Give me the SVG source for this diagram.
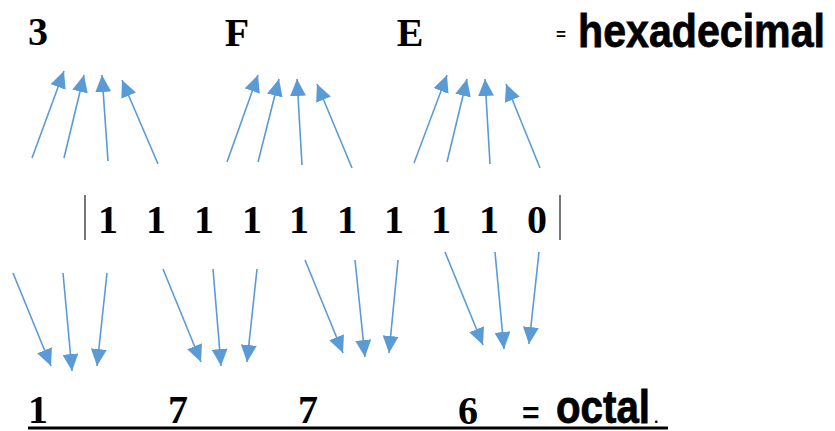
<svg xmlns="http://www.w3.org/2000/svg" width="835" height="431" viewBox="0 0 835 431">
<style>
.d{font-family:"Liberation Serif","Times New Roman",serif;font-weight:bold;font-size:40px;fill:#000;text-anchor:middle}
.w{font-family:"Liberation Sans",Arial,sans-serif;font-weight:bold;fill:#000}
.t{stroke:#000;stroke-width:0.8}
.c line{stroke:#5B9BD5;stroke-width:1.6;marker-end:url(#ah)}
.bar{stroke:#555;stroke-width:1.6}
</style>
<defs>
<marker id="ah" markerUnits="userSpaceOnUse" markerWidth="18" markerHeight="16" viewBox="0 0 18 16" refX="17" refY="8" orient="auto">
<path d="M0,0 L17,8 L0,16 Z" fill="#5B9BD5"/>
</marker>
</defs>
<rect width="835" height="431" fill="#fff"/>
<g id="hex-row">
<text class="d" x="38" y="45">3</text>
<text class="d" x="237" y="46">F</text>
<text class="d" x="410" y="46">E</text>
<text class="w" x="556" y="40" font-size="17">=</text>
<text class="w t" x="578" y="47" font-size="47" textLength="247" lengthAdjust="spacingAndGlyphs">hexadecimal</text>
</g>
<g id="binary-row">
<line class="bar" x1="85" y1="195" x2="85" y2="240"/>
<text class="d" x="108" y="233">1</text>
<text class="d" x="156" y="233">1</text>
<text class="d" x="204" y="233">1</text>
<text class="d" x="252" y="233">1</text>
<text class="d" x="299" y="233">1</text>
<text class="d" x="347" y="233">1</text>
<text class="d" x="394" y="233">1</text>
<text class="d" x="441" y="233">1</text>
<text class="d" x="489" y="233">1</text>
<text class="d" x="537" y="233">0</text>
<line class="bar" x1="560" y1="195" x2="560" y2="240"/>
</g>
<g id="octal-row">
<text class="d" x="38" y="423">1</text>
<text class="d" x="178" y="423">7</text>
<text class="d" x="308" y="423">7</text>
<text class="d" x="468" y="424">6</text>
<text class="w" x="522" y="423" font-size="30">=</text>
<text class="w t" x="556" y="423" font-size="46" textLength="94" lengthAdjust="spacingAndGlyphs">octal</text>
<text class="w" x="654" y="423" font-size="16">.</text>
<line x1="28" y1="428" x2="668" y2="428" stroke="#000" stroke-width="3"/>
</g>
<g id="connectors" class="c">
<line x1="32" y1="158" x2="64" y2="71"/>
<line x1="64" y1="158" x2="84" y2="75"/>
<line x1="108" y1="161" x2="102" y2="75"/>
<line x1="158" y1="164" x2="122" y2="80"/>
<line x1="227" y1="162" x2="258" y2="75"/>
<line x1="258" y1="162" x2="279" y2="79"/>
<line x1="302" y1="165" x2="297" y2="79"/>
<line x1="352" y1="168" x2="317" y2="84"/>
<line x1="414" y1="163" x2="447" y2="75"/>
<line x1="447" y1="162" x2="467" y2="79"/>
<line x1="490" y1="164" x2="485" y2="79"/>
<line x1="540" y1="168" x2="506" y2="84"/>
<line x1="13" y1="273" x2="51" y2="366"/>
<line x1="63" y1="273" x2="72" y2="371"/>
<line x1="107" y1="273" x2="97" y2="366"/>
<line x1="163" y1="269" x2="201" y2="362"/>
<line x1="213" y1="269" x2="221" y2="366"/>
<line x1="257" y1="269" x2="247" y2="362"/>
<line x1="305" y1="260" x2="343" y2="353"/>
<line x1="355" y1="260" x2="365" y2="357"/>
<line x1="398" y1="260" x2="389" y2="353"/>
<line x1="445" y1="252" x2="483" y2="345"/>
<line x1="495" y1="252" x2="504" y2="349"/>
<line x1="539" y1="252" x2="529" y2="344"/>
</g>
</svg>
